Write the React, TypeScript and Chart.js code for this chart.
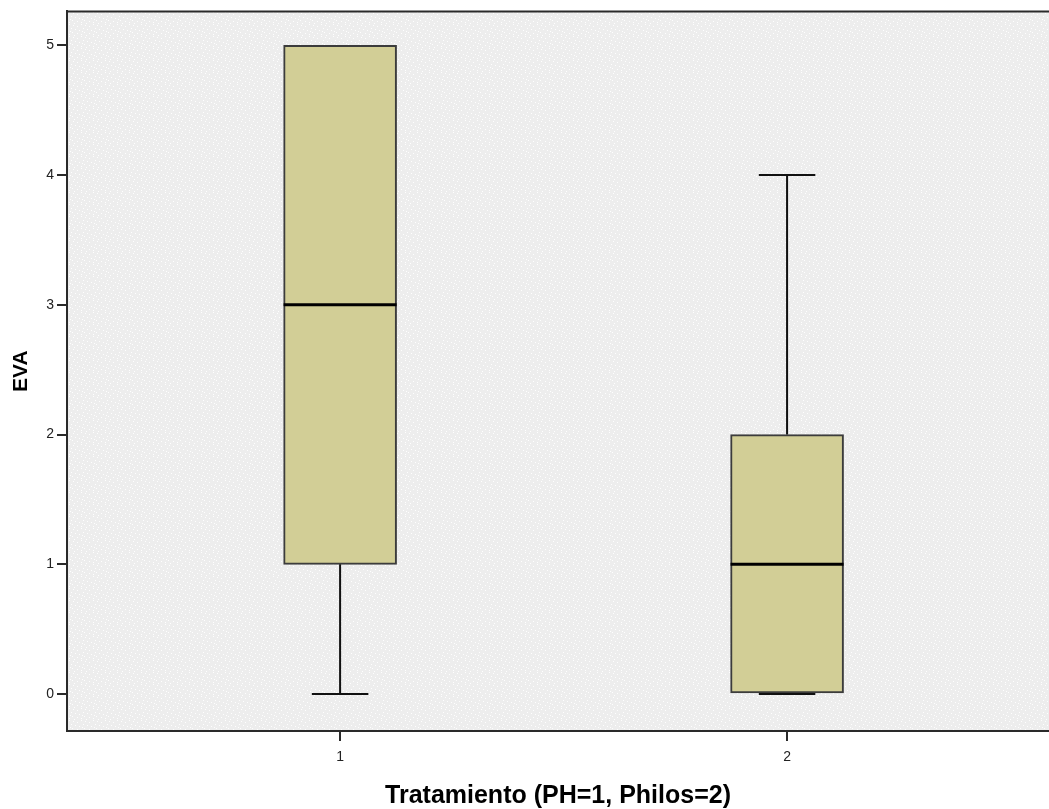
import React, { useEffect, useRef } from 'react';
import { Chart, registerables } from 'chart.js';

Chart.register(...registerables);

// ---- Data ----
const categories = [1, 2];
const xTickLabels = ['1', '2'];
const yTickValues = [0, 1, 2, 3, 4, 5];
const minimums = [0, 0];
const q1s = [1, 0];
const medians = [3, 1];
const q3s = [5, 2];
const maximums = [5, 4];
const xTitle = 'Tratamiento (PH=1, Philos=2)';
const yTitle = 'EVA';

const BOX_FILL = '#D2CE96';
const BOX_BORDER = '#3c3c3c';
const AXIS_COLOR = '#2a2a2a';

function makePattern(ctx: CanvasRenderingContext2D) {
  const c = document.createElement('canvas');
  c.width = 12;
  c.height = 12;
  const p = c.getContext('2d')!;
  p.fillStyle = '#EDEDED';
  p.fillRect(0, 0, 12, 12);
  p.fillStyle = 'rgba(255,255,255,0.9)';
  const dots = [
    [1, 1], [5, 2], [9, 0], [3, 5], [7, 6], [11, 4], [0, 8], [5, 9], [9, 10], [2, 11], [10, 7],
  ];
  dots.forEach(([x, y]) => p.fillRect(x, y, 1, 1));
  return ctx.createPattern(c, 'repeat');
}

const boxPlugin = {
  id: 'boxWhiskers',
  beforeDraw(chart: any) {
    const { ctx, chartArea } = chart;
    ctx.save();
    ctx.fillStyle = '#ffffff';
    ctx.fillRect(0, 0, chart.width, chart.height);
    const pat = makePattern(ctx);
    ctx.fillStyle = pat || '#EDEDED';
    ctx.fillRect(chartArea.left, chartArea.top, chartArea.right - chartArea.left, chartArea.bottom - chartArea.top);
    ctx.restore();
  },
  afterDatasetsDraw(chart: any) {
    const { ctx } = chart;
    const xs = chart.scales.x;
    const ys = chart.scales.y;
    const meta = chart.getDatasetMeta(0);
    ctx.save();
    categories.forEach((c, i) => {
      const el = meta.data[i];
      const half = el.width / 2;
      const cx = xs.getPixelForValue(c);
      const capHalf = half / 2;
      const yMin = ys.getPixelForValue(minimums[i]);
      const yMax = ys.getPixelForValue(maximums[i]);
      const yQ1 = ys.getPixelForValue(q1s[i]);
      const yQ3 = ys.getPixelForValue(q3s[i]);
      const yMed = ys.getPixelForValue(medians[i]);
      ctx.strokeStyle = '#111';
      ctx.lineWidth = 2;
      ctx.beginPath();
      if (maximums[i] > q3s[i]) {
        ctx.moveTo(cx, yQ3);
        ctx.lineTo(cx, yMax);
        ctx.moveTo(cx - capHalf, yMax);
        ctx.lineTo(cx + capHalf, yMax);
      }
      if (minimums[i] < q1s[i]) {
        ctx.moveTo(cx, yQ1);
        ctx.lineTo(cx, yMin);
      }
      ctx.moveTo(cx - capHalf, yMin);
      ctx.lineTo(cx + capHalf, yMin);
      ctx.stroke();
      ctx.strokeStyle = '#000';
      ctx.lineWidth = 3;
      ctx.beginPath();
      ctx.moveTo(cx - half, yMed);
      ctx.lineTo(cx + half, yMed);
      ctx.stroke();
    });
    // top frame line
    const { chartArea } = chart;
    ctx.strokeStyle = AXIS_COLOR;
    ctx.lineWidth = 2;
    ctx.beginPath();
    ctx.moveTo(chartArea.left - 1, chartArea.top);
    ctx.lineTo(chart.width, chartArea.top);
    ctx.stroke();
    ctx.restore();
  },
};

export default function App() {
  const ref = useRef<HTMLCanvasElement>(null);
  useEffect(() => {
    document.body.style.margin = '0';
    const chart = new Chart(ref.current!, {
      type: 'bar',
      data: {
        datasets: [
          {
            data: categories.map((c, i) => ({ x: c, y: [q1s[i], q3s[i]] })) as any,
            backgroundColor: BOX_FILL,
            borderColor: BOX_BORDER,
            borderWidth: 2,
            borderSkipped: false,
            barThickness: 113,
          },
        ],
      },
      options: {
        animation: false,
        responsive: true,
        maintainAspectRatio: false,
        layout: { padding: { top: 5, right: 0, left: 0, bottom: 0 } },
        plugins: { legend: { display: false }, tooltip: { enabled: false } },
        scales: {
          x: {
            type: 'linear',
            min: 0.389,
            max: 2.586,
            offset: false,
            afterBuildTicks: (s: any) => {
              s.ticks = categories.map((v) => ({ value: v }));
            },
            afterFit: (s: any) => {
              s.height = 78;
            },
            ticks: {
              callback: (v: any) => xTickLabels[categories.indexOf(Number(v))] ?? '',
              color: '#222',
              font: { family: 'Arial, "Liberation Sans"', size: 14 },
              padding: 8,
              maxRotation: 0,
            },
            grid: { offset: false, drawOnChartArea: false, drawTicks: true, tickLength: 10, color: AXIS_COLOR, lineWidth: 2 },
            border: { display: true, color: AXIS_COLOR, width: 2 },
            title: {
              display: true,
              text: xTitle,
              color: '#000',
              font: { family: 'Arial, "Liberation Sans"', size: 25, weight: 'bold' },
              padding: { top: 4, bottom: -2 },
            },
          },
          y: {
            type: 'linear',
            min: -0.285,
            max: 5.262,
            afterBuildTicks: (s: any) => {
              s.ticks = yTickValues.map((v) => ({ value: v }));
            },
            afterFit: (s: any) => {
              s.width = 67;
            },
            ticks: {
              color: '#222',
              font: { family: 'Arial, "Liberation Sans"', size: 14 },
              padding: 3,
            },
            grid: { drawOnChartArea: false, drawTicks: true, tickLength: 10, color: AXIS_COLOR, lineWidth: 2 },
            border: { display: true, color: AXIS_COLOR, width: 2 },
            title: {
              display: true,
              text: yTitle,
              color: '#000',
              font: { family: 'Arial, "Liberation Sans"', size: 21, weight: 'bold' },
              padding: { top: 9, bottom: 0 },
            },
          },
        },
      },
      plugins: [boxPlugin],
    });
    return () => chart.destroy();
  }, []);
  return (
    <div style={{ width: '1049px', height: '809px', position: 'relative' }}>
      <canvas ref={ref} />
    </div>
  );
}
